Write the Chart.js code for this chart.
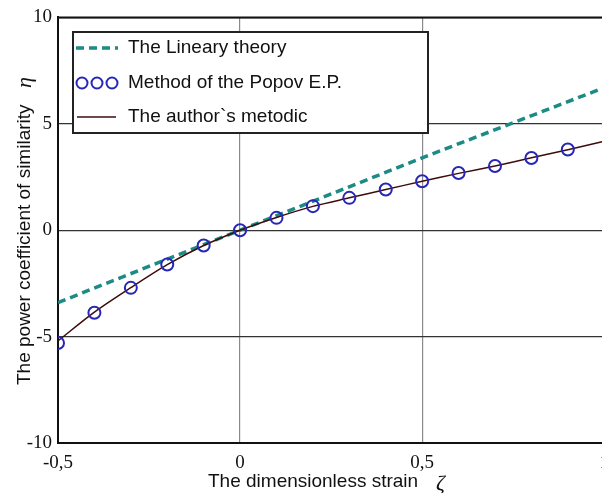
<!DOCTYPE html>
<html lang="en">
<head>
<meta charset="UTF-8">
<title>Power coefficient of similarity</title>
<script src="https://cdn.jsdelivr.net/npm/chart.js"></script>
<style>
  html, body { margin: 0; padding: 0; background: #fff; overflow: hidden; }
  canvas { display: block; }
</style>
</head>
<body>
<canvas id="chart" width="618" height="493"></canvas>
<script>
// values
const strainLinear = [-0.5, 0, 0.5, 1.0];
const linearTheory = [-3.4, 0, 3.4, 6.7];

const strainPopov = [-0.5, -0.4, -0.3, -0.2, -0.1, 0, 0.1, 0.2, 0.3, 0.4, 0.5, 0.6, 0.7, 0.8, 0.9];
const popovMethod = [-5.3, -3.88, -2.71, -1.61, -0.72, 0, 0.58, 1.13, 1.52, 1.91, 2.30, 2.69, 3.02, 3.39, 3.79];

const strainAuthor = [-0.5, -0.4, -0.3, -0.2, -0.1, 0, 0.1, 0.2, 0.3, 0.4, 0.5, 0.6, 0.7, 0.8, 0.9, 1.0];
const authorMethod = [-5.2, -3.85, -2.7, -1.62, -0.72, 0, 0.6, 1.12, 1.52, 1.91, 2.30, 2.67, 3.02, 3.4, 3.78, 4.18];

const xTicks = [-0.5, 0, 0.5, 1];
const yTicks = [-10, -5, 0, 5, 10];

const toPts = (xs, ys) => xs.map((x, i) => ({ x: x, y: ys[i] }));

const TEAL = '#1b8b84';
const BLUE = '#2626b8';
const BROWN = '#3f0c0c';

const decorations = {
  id: 'decorations',
  afterDraw(chart) {
    const { ctx, chartArea: a } = chart;
    ctx.save();
    // top frame line
    ctx.strokeStyle = '#111';
    ctx.lineWidth = 2;
    ctx.beginPath();
    ctx.moveTo(a.left, a.top);
    ctx.lineTo(a.right, a.top);
    ctx.stroke();

    // legend box
    const bx = 73, by = 32, bw = 355, bh = 101;
    ctx.fillStyle = '#fff';
    ctx.fillRect(bx, by, bw, bh);
    ctx.strokeStyle = '#222';
    ctx.lineWidth = 2;
    ctx.strokeRect(bx, by, bw, bh);

    ctx.font = '19px "Liberation Sans", Arial, sans-serif';
    ctx.fillStyle = '#111';
    ctx.textBaseline = 'middle';
    ctx.textAlign = 'left';
    const rows = [48, 83, 117];
    ctx.fillText('The Lineary theory', 128, rows[0]);
    ctx.fillText('Method of the Popov E.P.', 128, rows[1]);
    ctx.fillText('The author`s metodic', 128, rows[2]);

    ctx.strokeStyle = TEAL;
    ctx.lineWidth = 3.5;
    ctx.setLineDash([8, 5]);
    ctx.beginPath();
    ctx.moveTo(76, rows[0]);
    ctx.lineTo(118, rows[0]);
    ctx.stroke();
    ctx.setLineDash([]);

    ctx.strokeStyle = BLUE;
    ctx.lineWidth = 2;
    [82, 97, 112].forEach(cx => {
      ctx.beginPath();
      ctx.arc(cx, rows[1], 5.5, 0, Math.PI * 2);
      ctx.stroke();
    });

    ctx.strokeStyle = BROWN;
    ctx.lineWidth = 1.5;
    ctx.beginPath();
    ctx.moveTo(77, rows[2]);
    ctx.lineTo(116, rows[2]);
    ctx.stroke();

    // axis titles
    ctx.fillStyle = '#111';
    ctx.font = '19px "Liberation Sans", Arial, sans-serif';
    ctx.textAlign = 'left';
    ctx.fillText('The dimensionless strain', 208, 482);
    ctx.font = 'italic 22px "Liberation Serif", "Times New Roman", serif';
    ctx.fillText('\u03B6', 436, 484);

    ctx.translate(25, 385);
    ctx.rotate(-Math.PI / 2);
    ctx.font = '19px "Liberation Sans", Arial, sans-serif';
    ctx.fillText('The power coefficient of similarity', 0, 0);
    ctx.font = 'italic 22px "Liberation Serif", "Times New Roman", serif';
    ctx.fillText('\u03B7', 297, 0);
    ctx.restore();
  }
};

new Chart(document.getElementById('chart'), {
  type: 'scatter',
  data: {
    datasets: [
      {
        label: 'Method of the Popov E.P.',
        data: toPts(strainPopov, popovMethod),
        showLine: false,
        pointRadius: 6,
        pointHoverRadius: 6,
        pointBorderWidth: 2,
        pointBorderColor: BLUE,
        pointBackgroundColor: 'rgba(0,0,0,0)',
        order: 0
      },
      {
        label: 'The author`s metodic',
        data: toPts(strainAuthor, authorMethod),
        showLine: true,
        borderColor: BROWN,
        borderWidth: 1.5,
        pointRadius: 0,
        tension: 0.3,
        order: 1
      },
      {
        label: 'The Lineary theory',
        data: toPts(strainLinear, linearTheory),
        showLine: true,
        borderColor: TEAL,
        borderWidth: 3.5,
        borderDash: [8, 5],
        pointRadius: 0,
        order: 2
      }
    ]
  },
  options: {
    responsive: false,
    animation: false,
    layout: { padding: { top: 17, right: 3, left: 0, bottom: 0 } },
    plugins: { legend: { display: false }, tooltip: { enabled: false } },
    scales: {
      x: {
        type: 'linear',
        min: -0.5,
        max: 1,
        afterFit: s => { s.height = 50; },
        afterBuildTicks: s => { s.ticks = xTicks.map(v => ({ value: v })); },
        ticks: {
          padding: 9,
          color: '#111',
          font: { family: '"Liberation Serif", "Times New Roman", serif', size: 19 },
          callback: v => String(v).replace('.', ',')
        },
        grid: {
          drawTicks: false,
          color: '#8a8a8a',
          lineWidth: 1.2
        },
        border: { display: true, color: '#111', width: 2 }
      },
      y: {
        min: -10,
        max: 10,
        afterFit: s => { s.width = 58; },
        afterBuildTicks: s => { s.ticks = yTicks.map(v => ({ value: v })); },
        ticks: {
          padding: 6,
          color: '#111',
          font: { family: '"Liberation Serif", "Times New Roman", serif', size: 19 },
          callback: v => String(v)
        },
        grid: {
          drawTicks: false,
          color: '#333',
          lineWidth: 1.2
        },
        border: { display: true, color: '#111', width: 2 }
      }
    }
  },
  plugins: [decorations]
});
</script>
</body>
</html>
